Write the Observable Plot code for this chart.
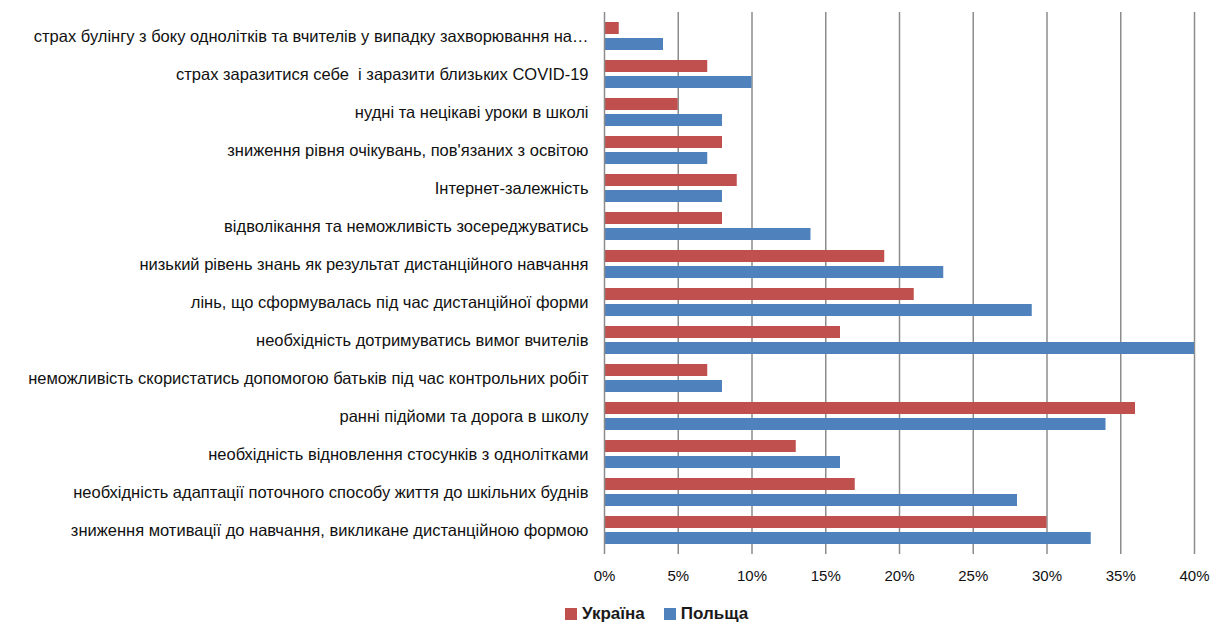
<!DOCTYPE html>
<html><head><meta charset="utf-8">
<script src="https://cdn.jsdelivr.net/npm/d3@7"></script>
<script src="https://cdn.jsdelivr.net/npm/@observablehq/plot@0.6"></script>
<style>
body{margin:0;background:#fff;font-family:"Liberation Sans",Arial,sans-serif;}
#legend{display:flex;align-items:center;margin-left:565px;margin-top:12px;font-weight:bold;font-size:17px;color:#1a1a1a;}
#legend .sw{width:12px;height:12px;display:inline-block;margin-right:5px;}
#legend .item{display:flex;align-items:center;margin-right:19px;}
</style>
</head><body>
<div id="chart"></div>
<div id="legend"></div>
<script>
const categories = [
  "страх булінгу з боку однолітків та вчителів у випадку захворювання на…",
  "страх заразитися себе  і заразити близьких COVID-19",
  "нудні та нецікаві уроки в школі",
  "зниження рівня очікувань, пов'язаних з освітою",
  "Інтернет-залежність",
  "відволікання та неможливість зосереджуватись",
  "низький рівень знань як результат дистанційного навчання",
  "лінь, що сформувалась під час дистанційної форми",
  "необхідність дотримуватись вимог вчителів",
  "неможливість скористатись допомогою батьків під час контрольних робіт",
  "ранні підйоми та дорога в школу",
  "необхідність відновлення стосунків з однолітками",
  "необхідність адаптації поточного способу життя до шкільних буднів",
  "зниження мотивації до навчання, викликане дистанційною формою"
];
const ukraine = [1, 7, 5, 8, 9, 8, 19, 21, 16, 7, 36, 13, 17, 30];
const poland  = [4, 10, 8, 7, 8, 14, 23, 29, 40, 8, 34, 16, 28, 33];
const seriesNames = ["Україна", "Польща"];
const seriesColors = ["#C0504D", "#4F81BD"];
const xTicks = [0, 5, 10, 15, 20, 25, 30, 35, 40];

const rows = categories.map((c, i) => ({category: c, ua: ukraine[i], pl: poland[i]}));

const chart = Plot.plot({
  width: 1217,
  height: 592,
  marginLeft: 604,
  marginRight: 23,
  marginTop: 12,
  marginBottom: 38,
  style: {fontSize: "15px", fontFamily: "'Liberation Sans', Arial, sans-serif", color: "#111", background: "#fff"},
  x: {domain: [0, 40], label: null},
  y: {domain: categories, padding: 0, label: null},
  marks: [
    Plot.gridX(xTicks.slice(1), {stroke: "#8c8c8c", strokeOpacity: 1, strokeWidth: 1.5}),
    Plot.barX(rows, {y: "category", x: "ua", fill: seriesColors[0], insetTop: 13, insetBottom: 13, dy: -8}),
    Plot.barX(rows, {y: "category", x: "pl", fill: seriesColors[1], insetTop: 13, insetBottom: 13, dy: 8}),
    Plot.ruleX([0], {stroke: "#8c8c8c", strokeWidth: 1.5}),
    Plot.axisX({ticks: xTicks, tickFormat: d => d + "%", tickSize: 0, tickPadding: 16, label: null, fontSize: 15}),
    Plot.axisY({tickSize: 0, tickPadding: 16, label: null, fontSize: 16.5})
  ]
});
document.getElementById("chart").appendChild(chart);

const legend = document.getElementById("legend");
seriesNames.forEach((n, i) => {
  const it = document.createElement("span");
  it.className = "item";
  const sw = document.createElement("span");
  sw.className = "sw";
  sw.style.background = seriesColors[i];
  it.appendChild(sw);
  it.appendChild(document.createTextNode(n));
  legend.appendChild(it);
});
</script>
</body></html>
